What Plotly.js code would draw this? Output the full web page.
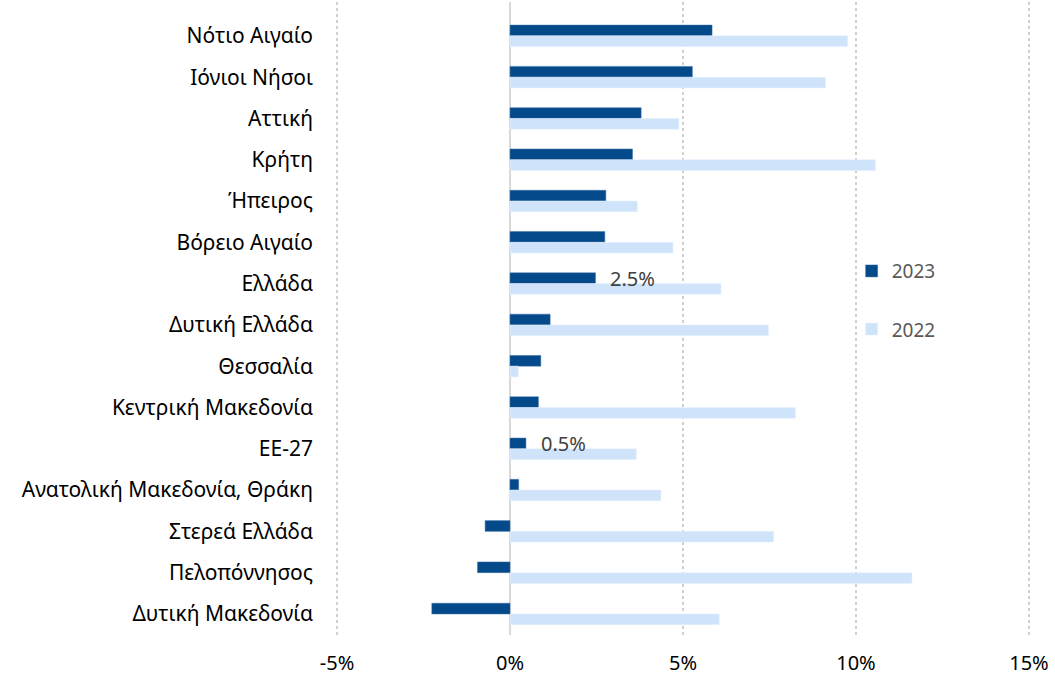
<!DOCTYPE html>
<html>
<head>
<meta charset="utf-8">
<script src="https://cdn.plot.ly/plotly-3.0.1.min.js"></script>
<style>html,body{margin:0;padding:0;background:#fff;}#chart{width:1055px;height:676px;}</style>
</head>
<body>
<div id="chart"></div>
<script>
const categories = ["Νότιο Αιγαίο","Ιόνιοι Νήσοι","Αττική","Κρήτη","Ήπειρος","Βόρειο Αιγαίο","Ελλάδα","Δυτική Ελλάδα","Θεσσαλία","Κεντρική Μακεδονία","ΕΕ-27","Ανατολική Μακεδονία, Θράκη","Στερεά Ελλάδα","Πελοπόννησος","Δυτική Μακεδονία"];
const values2023 = [5.84, 5.27, 3.79, 3.54, 2.77, 2.74, 2.47, 1.16, 0.89, 0.82, 0.46, 0.25, -0.72, -0.94, -2.26];
const values2022 = [9.76, 9.12, 4.88, 10.56, 3.68, 4.71, 6.10, 7.47, 0.24, 8.25, 3.65, 4.36, 7.62, 11.62, 6.05];
const labelledCategories = ["Ελλάδα", "ΕΕ-27"];
const xTicks = [-5, 0, 5, 10, 15];
const xTickLabels = ["-5%", "0%", "5%", "10%", "15%"];

const FONT = "Noto Sans, sans-serif";

const traces = [
  {type: "bar", orientation: "h", name: "2023", y: categories, x: values2023,
   marker: {color: "#044a8a", line: {color: "#3a6ea5", width: 0.5}}, legend: "legend", hoverinfo: "skip"},
  {type: "bar", orientation: "h", name: "2022", y: categories, x: values2022,
   marker: {color: "#cfe4fb", line: {color: "#e6f1fd", width: 0.5}}, legend: "legend2", hoverinfo: "skip"}
];

const annotations = labelledCategories.map(c => {
  const i = categories.indexOf(c);
  return {x: values2023[i], y: c, xref: "x", yref: "y", text: values2023[i].toFixed(1) + "%",
    showarrow: false, xanchor: "left", yanchor: "middle", xshift: 13, yshift: 5,
    font: {family: FONT, size: 20, color: "#404040"}};
});

const layout = {
  width: 1055, height: 676,
  margin: {l: 336, r: 25, t: 2, b: 41, pad: 0},
  paper_bgcolor: "#ffffff", plot_bgcolor: "#ffffff",
  barmode: "group", bargap: 0.48, bargroupgap: 0,
  font: {family: FONT, size: 20, color: "#000000"},
  xaxis: {range: [-5.03, 15.03], tickvals: xTicks, ticktext: xTickLabels,
    showgrid: true, gridcolor: "#d0d0d0", griddash: "dot", gridwidth: 1.5,
    zeroline: true, zerolinecolor: "#d9d9d9", zerolinewidth: 2,
    showline: false, ticks: "", ticklabelstandoff: 14,
    tickfont: {family: FONT, size: 20, color: "#000000"}, fixedrange: true},
  yaxis: {type: "category", range: [14.51, -0.82], showgrid: false, zeroline: false,
    showline: false, ticks: "", ticklabelstandoff: 22,
    tickfont: {family: FONT, size: 21, color: "#000000"}, fixedrange: true},
  showlegend: true,
  legend: {x: 0.743, xanchor: "left", y: 0.575, yanchor: "middle", bgcolor: "rgba(0,0,0,0)",
    font: {family: FONT, size: 19, color: "#595959"}},
  legend2: {x: 0.743, xanchor: "left", y: 0.483, yanchor: "middle", bgcolor: "rgba(0,0,0,0)",
    font: {family: FONT, size: 19, color: "#595959"}},
  annotations: annotations
};

Plotly.newPlot("chart", traces, layout, {displayModeBar: false, staticPlot: true});
</script>
</body>
</html>
